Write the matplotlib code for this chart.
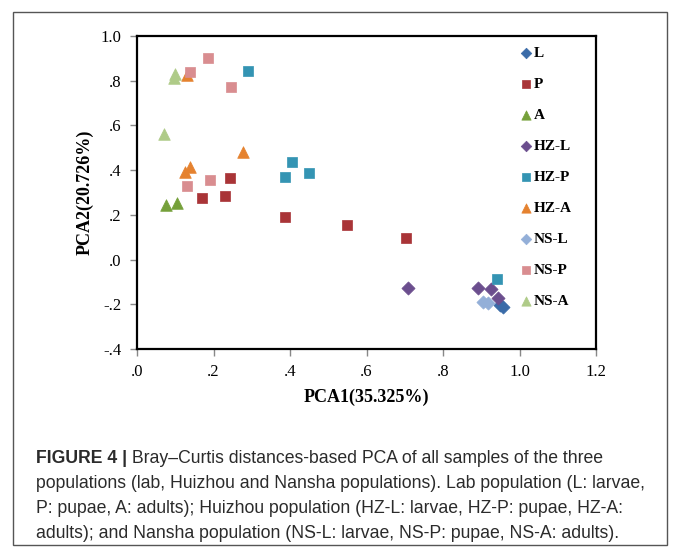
import matplotlib
matplotlib.use('Agg')
import matplotlib.pyplot as plt
from matplotlib.patches import Rectangle
from matplotlib.ticker import FuncFormatter

# group names, in legend order
groups = ['L', 'P', 'A', 'HZ-L', 'HZ-P', 'HZ-A', 'NS-L', 'NS-P', 'NS-A']

# PCA1 / PCA2 coordinates
pca1 = {
    'L': [0.950, 0.958],
    'P': [0.243, 0.171, 0.229, 0.387, 0.550, 0.702],
    'A': [0.077, 0.104],
    'HZ-L': [0.708, 0.891, 0.926, 0.944],
    'HZ-P': [0.290, 0.387, 0.405, 0.450, 0.940],
    'HZ-A': [0.130, 0.125, 0.138, 0.276],
    'NS-L': [0.904, 0.918],
    'NS-P': [0.138, 0.185, 0.245, 0.132, 0.190],
    'NS-A': [0.100, 0.097, 0.070],
}
pca2 = {
    'L': [-0.203, -0.211],
    'P': [0.366, 0.277, 0.286, 0.189, 0.156, 0.097],
    'A': [0.244, 0.254],
    'HZ-L': [-0.126, -0.126, -0.132, -0.173],
    'HZ-P': [0.845, 0.370, 0.435, 0.387, -0.088],
    'HZ-A': [0.826, 0.393, 0.415, 0.483],
    'NS-L': [-0.190, -0.193],
    'NS-P': [0.840, 0.900, 0.770, 0.329, 0.356],
    'NS-A': [0.830, 0.810, 0.560],
}

colors = {
    'L': '#3A6BA8', 'P': '#A93437', 'A': '#75A03A',
    'HZ-L': '#6B4E8E', 'HZ-P': '#3494B3', 'HZ-A': '#E5822F',
    'NS-L': '#93AFD8', 'NS-P': '#D98D90', 'NS-A': '#AFCB88',
}
markers = {'L': 'D', 'P': 's', 'A': '^',
           'HZ-L': 'D', 'HZ-P': 's', 'HZ-A': '^',
           'NS-L': 'D', 'NS-P': 's', 'NS-A': '^'}
sizes = {'D': 45, 's': 60, '^': 70}

caption_head = 'FIGURE 4 |'
caption = [
    ' Bray\u2013Curtis distances-based PCA of all samples of the three',
    'populations (lab, Huizhou and Nansha populations). Lab population (L: larvae,',
    'P: pupae, A: adults); Huizhou population (HZ-L: larvae, HZ-P: pupae, HZ-A:',
    'adults); and Nansha population (NS-L: larvae, NS-P: pupae, NS-A: adults).',
]

W, H = 674, 552
fig = plt.figure(figsize=(W / 100, H / 100), dpi=100)
ax = fig.add_axes([137 / W, 1 - 349 / H, (596 - 137) / W, (349 - 36) / H])

for g in groups:
    m = markers[g]
    ax.scatter(pca1[g], pca2[g], marker=m, s=sizes[m], color=colors[g],
               edgecolors=colors[g], linewidths=0.5, label=g, zorder=3)

ax.set_xlim(0, 1.2)
ax.set_ylim(-0.4, 1.0)
ax.set_xticks([0, 0.2, 0.4, 0.6, 0.8, 1.0, 1.2])
ax.set_yticks([-0.4, -0.2, 0, 0.2, 0.4, 0.6, 0.8, 1.0])


def fmt(v, pos):
    s = '%.1f' % v
    if s.startswith('0.'):
        s = s[1:]
    elif s.startswith('-0.'):
        s = '-' + s[2:]
    return s


ax.xaxis.set_major_formatter(FuncFormatter(fmt))
ax.yaxis.set_major_formatter(FuncFormatter(fmt))
ax.tick_params(direction='out', length=5, width=1, color='#888888',
               labelsize=12, pad=6)
for lab in ax.get_xticklabels() + ax.get_yticklabels():
    lab.set_fontfamily('Liberation Serif')
for sp in ax.spines.values():
    sp.set_linewidth(1.6)
    sp.set_color('black')

ax.set_xlabel('PCA1(35.325%)', fontfamily='Liberation Serif',
              fontweight='bold', fontsize=13, labelpad=6)
ax.set_ylabel('PCA2(20.726%)', fontfamily='Liberation Serif',
              fontweight='bold', fontsize=13, labelpad=5)

leg = ax.legend(loc='upper left', bbox_to_anchor=(509 / W, 1 - 39 / H),
                bbox_transform=fig.transFigure, frameon=False,
                prop={'family': 'Liberation Serif', 'weight': 'bold', 'size': 11},
                handletextpad=-0.1, labelspacing=1.13, markerscale=0.8,
                handlelength=1.2, borderpad=0)

# outer border and caption
fig.patches.append(Rectangle((13 / W, 1 - 545 / H), 654 / W, 533 / H,
                             transform=fig.transFigure, fill=False,
                             edgecolor='#555555', linewidth=1))

cap_font = {'family': 'Liberation Sans', 'size': 12.7, 'color': '#2b2b2b'}
t0 = fig.text(36 / W, 1 - 463 / H, caption_head, fontweight='bold', **cap_font)
ax.annotate(caption[0], xy=(1, 0), xycoords=t0, va='bottom', ha='left',
            fontfamily=cap_font['family'], fontsize=cap_font['size'],
            color=cap_font['color'])
for i, line in enumerate(caption[1:]):
    fig.text(36 / W, 1 - (488 + 25 * i) / H, line, **cap_font)

fig.savefig('out.png', dpi=100)
